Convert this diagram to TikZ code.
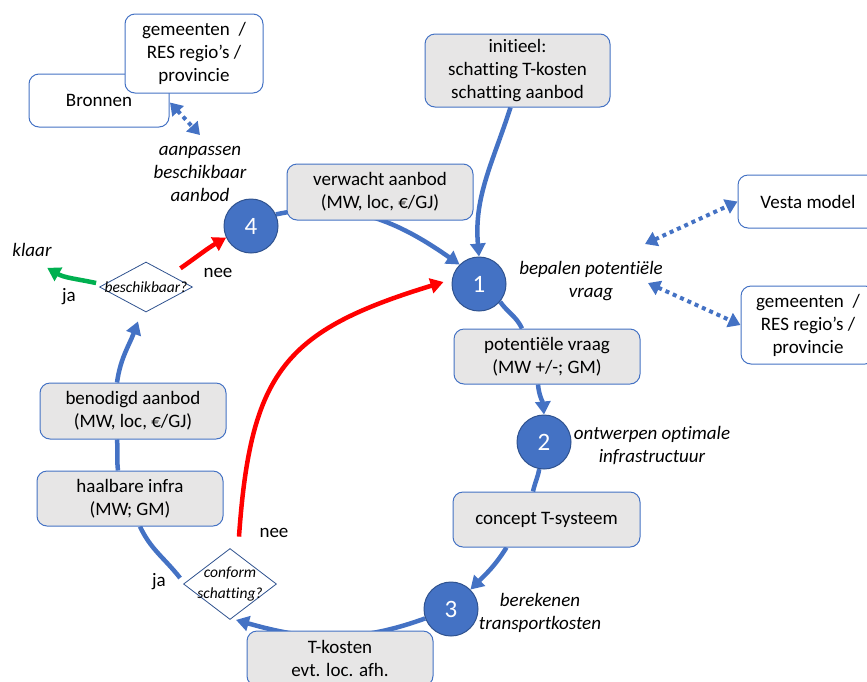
\documentclass[tikz,border=0pt]{standalone}
\usepackage{fontspec}
\setmainfont{Carlito}[Ligatures={NoCommon}, Contextuals={NoAlternate}]
\usetikzlibrary{shapes.geometric,arrows.meta}
\definecolor{flowblue}{HTML}{4472C4}
\definecolor{ringblue}{HTML}{2F528F}
\definecolor{boxgray}{HTML}{E7E6E6}
\definecolor{okgreen}{HTML}{00B050}
\definecolor{nored}{HTML}{FF0000}
\pgfdeclarelayer{links}
\pgfsetlayers{links,main}

\begin{document}
\begin{tikzpicture}[x=1pt,y=1pt,
  every node/.style={font=\fontsize{19}{23}\selectfont, inner sep=0pt},
  box/.style={draw=flowblue, line width=1pt, rounded corners=10pt, fill=boxgray, align=center},
  wbox/.style={box, fill=white},
  num/.style={circle, fill=flowblue, draw=ringblue, line width=1pt, minimum size=54pt,
    text=white, font=\fontsize{25}{30}\selectfont},
  note/.style={align=center, font=\fontsize{19}{23}\selectfont\itshape},
  choice/.style={diamond, draw=ringblue, line width=0.8pt, fill=white},
  choicetext/.style={align=center, font=\fontsize{15.5}{21}\selectfont\itshape},
  flow/.style={draw=flowblue, line width=4.5pt},
  headed/.style={-{Triangle[length=13pt,width=15pt]}},
  yesline/.style={draw=okgreen, line width=4.5pt, -{Triangle[length=13pt,width=15pt]}},
  noline/.style={draw=nored, line width=4.5pt, -{Triangle[length=13pt,width=15pt]}},
  infolink/.style={draw=flowblue, line width=4pt, dash pattern=on 4pt off 4pt,
    {Triangle[length=12pt,width=15pt]}-{Triangle[length=12pt,width=15pt]}}
]
\useasboundingbox (0,0) rectangle (867,-681);

% ---- boxes, steps and decisions ----
\node[wbox, minimum width=140pt, minimum height=53pt] (bronnen) at (99,-100.5) {Bronnen};
\node[wbox, minimum width=138pt, minimum height=79pt] (gemL) at (194,-53.5)
  {gemeenten\ \ /\\RES regio’s /\\provincie};
\node[note] (aanpassen) at (200,-174) {aanpassen\\beschikbaar\\aanbod};

\node[num] (c4) at (251,-226) {4};
\node[box, minimum width=186pt, minimum height=56pt] (verwacht) at (380,-192)
  {verwacht aanbod\\(MW, loc, €/GJ)};
\node[box, minimum width=185pt, minimum height=73pt] (init) at (517.5,-70.5)
  {initieel:\\schatting T-kosten\\schatting aanbod};

\node[num] (c1) at (479,-284) {1};
\node[note] (bepalen) at (591,-281) {bepalen potentiële\\vraag};
\node[wbox, minimum width=140pt, minimum height=53pt] (vesta) at (808,-201.5) {Vesta model};
\node[wbox, minimum width=134pt, minimum height=78pt] (gemR) at (808,-325)
  {gemeenten\ \ /\\RES regio’s /\\provincie};

\node[box, minimum width=186pt, minimum height=55pt] (pv) at (547,-356.5)
  {potentiële vraag\\(MW +/-; GM)};
\node[num] (c2) at (544,-442) {2};
\node[note] (ontwerpen) at (652,-446) {ontwerpen optimale\\infrastructuur};
\node[box, minimum width=187pt, minimum height=55pt] (concept) at (546.5,-519.5) {concept T-systeem};
\node[num] (c3) at (451,-609) {3};
\node[note] (berekenen) at (540,-613) {berekenen\\transportkosten};
\node[box, minimum width=186pt, minimum height=55pt] (tkosten) at (340,-658.5)
  {T-kosten\\evt. loc. afh.};

\node[choice, minimum width=93pt, minimum height=71pt] (conform) at (230,-584) {};
\node[choicetext] (conformtxt) at (conform) {conform\\schatting?};
\node (nee2) at (274,-533) {nee};
\node (ja2) at (159,-582) {ja};

\node[box, minimum width=186pt, minimum height=55pt] (haalbare) at (130,-498.5)
  {haalbare infra\\(MW; GM)};
\node[box, minimum width=186pt, minimum height=56pt] (benodigd) at (133,-411)
  {benodigd aanbod\\(MW, loc, €/GJ)};

\node[choice, minimum width=93pt, minimum height=50pt] (beschikbaar) at (146,-287) {};
\node[choicetext] (beschikbaartxt) at (beschikbaar) {beschikbaar?};
\node[note] (klaar) at (32,-250) {klaar};
\node (ja1) at (69,-297) {ja};
\node (nee1) at (218,-273) {nee};

% ---- connectors, kept behind the boxes ----
\begin{pgfonlayer}{links}
  % main cycle
  \draw[flow, headed] (c4.25) to[out=12, in=145] (c1.135);
  \draw[flow, headed] ([xshift=-7pt]init.south) to[out=-108, in=95] (c1.north);
  \draw[flow] (c1.-40) to[out=-55, in=115] ([xshift=-25pt]pv.north);
  \draw[flow, headed] ([xshift=-9pt]pv.south) to[out=-85, in=95] (c2.north);
  \draw[flow] (c2.-100) to[out=-100, in=78] ([xshift=-13.5pt]concept.north);
  \draw[flow, headed] ([xshift=-40pt]concept.south) to[out=-122, in=45] (c3.45);
  \draw[flow, headed] (c3.200) to[out=200, in=-16] ([xshift=6pt]conform.south);
  \draw[flow] ([xshift=-3pt,yshift=6pt]conform.west) to[out=128, in=-65] ([xshift=10pt]haalbare.south);
  \draw[flow] ([xshift=-12pt]haalbare.north) to[out=97, in=-85] ([xshift=-16pt]benodigd.south);
  \draw[flow, headed] ([xshift=-16pt]benodigd.north) to[out=82, in=-110]
    ([xshift=-8pt,yshift=-9pt]beschikbaar.south);

  % decisions
  \draw[yesline] ([xshift=-3pt,yshift=4pt]beschikbaar.west) to[out=168, in=-30]
    ([xshift=-4.5pt,yshift=-11pt]klaar.south east);
  \draw[noline] ([shift={(11pt,6pt)}]beschikbaar.north east) to[out=35, in=210] (c4.205);
  \draw[noline] ([shift={(9pt,11.5pt)}]conform.north) to[out=86, in=197, looseness=1.3]
    ([xshift=-8pt,yshift=2pt]c1.west);

  % information exchange
  \draw[infolink] ([xshift=-24pt,yshift=-9pt]gemL.south) -- ([yshift=39pt]aanpassen.center);
  \draw[infolink] ([shift={(54pt,37pt)}]bepalen.center) -- (vesta.west);
  \draw[infolink] ([shift={(57pt,-2pt)}]bepalen.center) -- (gemR.west);
\end{pgfonlayer}
\end{tikzpicture}
\end{document}
